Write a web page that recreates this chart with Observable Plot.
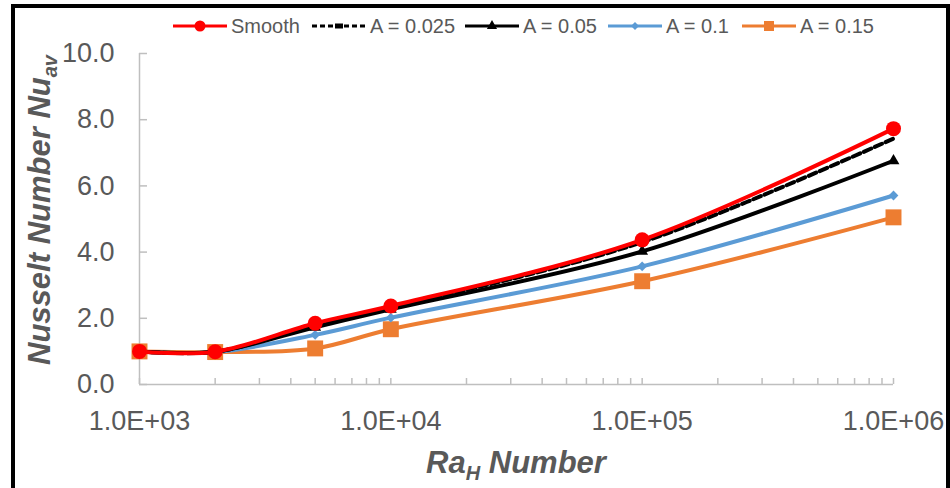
<!DOCTYPE html>
<html>
<head>
<meta charset="utf-8">
<script src="https://cdn.jsdelivr.net/npm/d3@7"></script>
<script src="https://cdn.jsdelivr.net/npm/@observablehq/plot@0.6"></script>
<style>
  body { margin: 0; background: #fff; }
  #wrap { position: relative; width: 950px; height: 488px; overflow: hidden; background: #fff; }
  #frame { position: absolute; left: 11px; top: 4px; width: 939px; height: 520px;
           border: 4px solid #000; border-bottom: none; box-sizing: border-box; pointer-events: none; }
</style>
</head>
<body>
<div id="wrap"><div id="frame"></div></div>
<script>
// ---- data ----
const raH = [1000, 2000, 5000, 10000, 100000, 1000000];
const seriesNames = ["Smooth", "A = 0.025", "A = 0.05", "A = 0.1", "A = 0.15"];
const nuSmooth = [1.00, 0.99, 1.85, 2.37, 4.37, 7.73];
const nuA025   = [1.00, 0.99, 1.79, 2.32, 4.30, 7.43];
const nuA05    = [1.00, 0.99, 1.73, 2.27, 4.02, 6.76];
const nuA10    = [1.00, 0.98, 1.50, 2.02, 3.57, 5.71];
const nuA15    = [1.00, 0.98, 1.09, 1.67, 3.12, 5.05];
const yTicks = [0, 2, 4, 6, 8, 10];
const yTickLabels = ["0.0", "2.0", "4.0", "6.0", "8.0", "10.0"];
const xMajorTicks = [1e3, 1e4, 1e5, 1e6];
const xTickLabels = ["1.0E+03", "1.0E+04", "1.0E+05", "1.0E+06"];
const xTitle = ["Ra", "H", " Number"];
const yTitle = ["Nusselt Number Nu", "av"];

// ---- styles per series ----
const styles = [
  {name: seriesNames[0], values: nuSmooth, color: "#ff0000", dash: null, symbol: "circle", r: 7.5},
  {name: seriesNames[1], values: nuA025, color: "#000000", dash: "8,4", symbol: null, r: 0},
  {name: seriesNames[2], values: nuA05, color: "#000000", dash: null, symbol: "triangle", r: 4.4},
  {name: seriesNames[3], values: nuA10, color: "#5b9bd5", dash: null, symbol: "diamond2", r: 4.4},
  {name: seriesNames[4], values: nuA15, color: "#ed7d31", dash: null, symbol: "square", r: 9}
];

const rows = s => raH.map((x, i) => ({x, y: s.values[i]}));

// minor log ticks
const xAllTicks = [];
for (let d = 0; d < xMajorTicks.length - 1; d++)
  for (let m = 1; m < 10; m++) xAllTicks.push(m * xMajorTicks[d]);
xAllTicks.push(xMajorTicks[xMajorTicks.length - 1]);

const axisGrey = "#bfbfbf";
const textGrey = "#595959";

const marks = [
  Plot.ruleX([1e3], {stroke: axisGrey, strokeWidth: 1.5}),
  Plot.ruleY([0], {stroke: axisGrey, strokeWidth: 1.5}),
  Plot.axisY({ticks: yTicks, tickSize: 8, dx: 8, stroke: axisGrey, strokeWidth: 1.5, text: null, label: null}),
  Plot.axisY({ticks: yTicks, tickSize: 0, tickPadding: 25, fontSize: 27, fill: textGrey, label: null,
              tickFormat: v => yTickLabels[yTicks.indexOf(v)]}),
  Plot.axisX({ticks: xAllTicks, tickSize: 6, dy: -6, stroke: axisGrey, strokeWidth: 1.5, text: null, label: null}),
  Plot.axisX({ticks: xMajorTicks, tickSize: 0, tickPadding: 26, fontSize: 27, fill: textGrey, label: null,
              tickFormat: v => xTickLabels[xMajorTicks.indexOf(v)]})
];

for (const s of styles.slice().reverse()) {
  marks.push(Plot.line(rows(s), {x: "x", y: "y", stroke: s.color, strokeWidth: 4,
    strokeDasharray: s.dash, curve: "catmull-rom"}));
  if (s.symbol) marks.push(Plot.dot(rows(s), {x: "x", y: "y", fill: s.color, stroke: "none",
    symbol: s.symbol, r: s.r}));
}

const chart = Plot.plot({
  width: 950, height: 488,
  marginLeft: 139, marginRight: 57, marginTop: 53, marginBottom: 104,
  style: {fontFamily: "'Liberation Sans', Arial, sans-serif", background: "transparent", overflow: "visible"},
  x: {type: "log", domain: [1e3, 1e6]},
  y: {domain: [0, 10]},
  marks
});
const wrap = document.getElementById("wrap");
wrap.insertBefore(chart, wrap.firstChild);

const svg = d3.select(chart);
const font = "'Liberation Sans', Arial, sans-serif";

// axis titles
const xt = svg.append("text").attr("x", 516).attr("y", 473).attr("text-anchor", "middle")
  .attr("font-family", font).attr("font-weight", "bold").attr("font-style", "italic")
  .attr("font-size", 31).attr("fill", textGrey);
xt.append("tspan").text(xTitle[0]);
xt.append("tspan").attr("font-size", 20).attr("dy", 7).text(xTitle[1]);
xt.append("tspan").attr("dy", -7).text(xTitle[2]);

const yt = svg.append("text").attr("transform", "translate(50,210) rotate(-90)").attr("text-anchor", "middle")
  .attr("font-family", font).attr("font-weight", "bold").attr("font-style", "italic")
  .attr("font-size", 31).attr("fill", textGrey);
yt.append("tspan").text(yTitle[0]);
yt.append("tspan").attr("font-size", 20).attr("dy", 7).text(yTitle[1]);

// legend
const legendStarts = [173, 312, 465, 608, 742];
const legendSym = {circle: [d3.symbolCircle, 95], triangle: [d3.symbolTriangle, 45],
                   diamond2: [d3.symbolDiamond2, 40], square: [d3.symbolSquare, 100]};
const lg = svg.append("g").attr("text-anchor", "start");
styles.forEach((s, i) => {
  const x0 = legendStarts[i], yc = 26;
  lg.append("line").attr("x1", x0).attr("x2", x0 + 54).attr("y1", yc).attr("y2", yc)
    .attr("stroke", s.color).attr("stroke-width", 3).attr("stroke-dasharray", s.dash ? "5,3" : null);
  if (s.symbol) {
    const [t, size] = legendSym[s.symbol];
    lg.append("path").attr("d", d3.symbol(t, size)()).attr("transform", `translate(${x0 + 27},${yc})`)
      .attr("fill", s.color);
  } else {
    lg.append("rect").attr("x", x0 + 23).attr("y", yc - 2.5).attr("width", 8).attr("height", 5).attr("fill", s.color);
  }
  lg.append("text").attr("x", x0 + 58).attr("y", yc + 7).attr("text-anchor", "start").attr("font-family", font)
    .attr("font-size", 20).attr("fill", textGrey).text(s.name);
});
</script>
</body>
</html>
